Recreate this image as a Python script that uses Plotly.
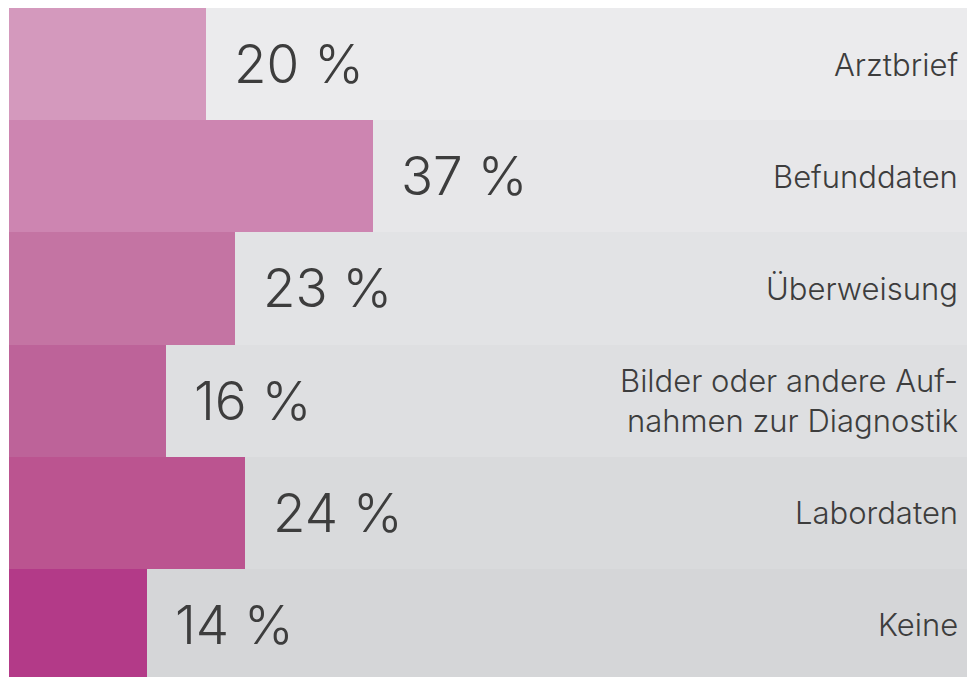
import plotly.graph_objects as go

categories = ["Arztbrief", "Befunddaten", "Überweisung",
              "Bilder oder andere Auf-<br>nahmen zur Diagnostik", "Labordaten", "Keine"]
values = [20, 37, 23, 16, 24, 14]
value_labels = ["20 %", "37 %", "23 %", "16 %", "24 %", "14 %"]
bar_colors = ["#d499bd", "#cd85b1", "#c474a3", "#bd6399", "#bb5490", "#b33a88"]
bg_colors = ["#ebebed", "#e7e7e9", "#e2e3e5", "#dedfe1", "#d9dadc", "#d5d6d8"]
bg_values = [100] * len(categories)

pos = list(range(len(categories)))

fig = go.Figure()
fig.add_trace(go.Bar(x=bg_values, y=pos, orientation="h", width=1,
                     marker=dict(color=bg_colors, line=dict(width=0)),
                     hoverinfo="skip", showlegend=False))
fig.add_trace(go.Bar(x=values, y=pos, orientation="h", width=1,
                     marker=dict(color=bar_colors, line=dict(width=0)),
                     showlegend=False))

font_family = "Inter, 'Noto Sans', sans-serif"
annotations = []
for i, (v, lab, cat) in enumerate(zip(values, value_labels, categories)):
    annotations.append(dict(x=v, y=i, xref="x", yref="y", text=lab,
                            xanchor="left", yanchor="middle", xshift=26,
                            showarrow=False,
                            font=dict(family=font_family, size=53, color="#3d3d3d", weight=300)))
    annotations.append(dict(x=(960 - 9) / 974, y=i, xref="paper", yref="y", text=cat,
                            xanchor="right", yanchor="middle", align="right",
                            showarrow=False,
                            font=dict(family=font_family, size=31, color="#3d3d3d", weight=300)))

fig.update_layout(
    width=975, height=677,
    margin=dict(l=1, r=0, t=0, b=4),
    paper_bgcolor="white", plot_bgcolor="white",
    barmode="overlay", bargap=0,
    xaxis=dict(range=[0, 99.1], visible=False, fixedrange=True),
    yaxis=dict(range=[5.5, -0.5], visible=False, fixedrange=True),
    annotations=annotations,
)

fig.write_html("out.html")
